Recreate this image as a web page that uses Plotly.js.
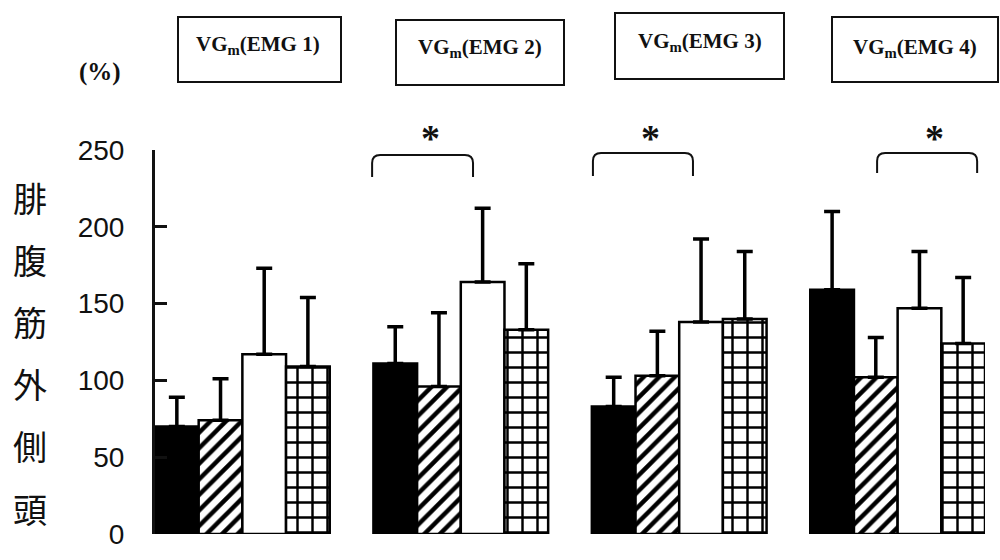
<!DOCTYPE html>
<html>
<head>
<meta charset="utf-8">
<script src="https://cdn.plot.ly/plotly-3.0.1.min.js"></script>
<style>html,body{margin:0;padding:0;background:#fff;}#chart{width:1000px;height:560px;}</style>
</head>
<body>
<div id="chart"></div>
<script>
// ---- data ----
const groups = [0, 1, 2, 3];
const panelLabels = ['VG<sub>m</sub>(EMG 1)', 'VG<sub>m</sub>(EMG 2)', 'VG<sub>m</sub>(EMG 3)', 'VG<sub>m</sub>(EMG 4)'];
const blackMean   = [70, 111, 83, 159];
const blackSD     = [19, 24, 19, 51];
const hatchMean   = [74, 96, 103, 102];
const hatchSD     = [27, 48, 29, 26];
const whiteMean   = [117, 164, 138, 147];
const whiteSD     = [56, 48, 54, 37];
const gridMean    = [109, 133, 140, 124];
const gridSD      = [45, 43, 44, 43];
const yTickVals   = [0, 50, 100, 150, 200, 250];
const yTitleChars = ['腓', '腹', '筋', '外', '側', '頭'];
// significance brackets: [x0, x1, yTop, yEnd] in data units
const brackets = [[0.594, 1.056, 246.7, 232.4], [1.605, 2.063, 248, 233], [2.906, 3.364, 248, 235]];

// ---- layout geometry (pixels) ----
const W = 1000, H = 560, L = 155, R = 15, T = 150, B = 26;
const pw = W - L - R, ph = H - T - B;
const px2paperX = p => (p - L) / pw;
const py2paperY = p => (H - B - p) / ph;

const zeros = groups.map(() => 0);
const errStyle = (arr) => ({type: 'data', symmetric: false, array: arr, arrayminus: zeros,
  color: '#000', thickness: 3.5, width: 8});
const outline = {color: '#000', width: 2.5};

const traces = [
  {type: 'bar', x: groups, y: blackMean, error_y: errStyle(blackSD),
   marker: {color: '#000', line: outline}},
  {type: 'bar', x: groups, y: hatchMean, error_y: errStyle(hatchSD),
   marker: {color: '#fff', line: outline,
     pattern: {shape: '/', fgcolor: '#000', bgcolor: '#fff', size: 11, solidity: 0.4, fillmode: 'replace'}}},
  {type: 'bar', x: groups, y: whiteMean, error_y: errStyle(whiteSD),
   marker: {color: '#fff', line: outline}},
  {type: 'bar', x: groups, y: gridMean, error_y: errStyle(gridSD),
   marker: {color: '#fff', line: outline,
     pattern: {shape: '+', fgcolor: '#000', bgcolor: '#fff', size: 15, solidity: 0.3, fillmode: 'replace'}}}
];

const shapes = [];
const annotations = [];

// panel boxes (pixel rects) and labels
const boxes = [[178, 17, 341, 82], [396, 20, 564, 85], [615, 13, 784, 79], [832, 17, 998, 82]];
const labelPos = [[258, 45], [480, 48], [700, 42], [915, 48]];
boxes.forEach((b, i) => {
  shapes.push({type: 'rect', xref: 'paper', yref: 'paper',
    x0: px2paperX(b[0]), x1: px2paperX(b[2]), y0: py2paperY(b[3]), y1: py2paperY(b[1]),
    line: {color: '#111', width: 2}, fillcolor: 'rgba(0,0,0,0)'});
  annotations.push({xref: 'paper', yref: 'paper', x: px2paperX(labelPos[i][0]), y: py2paperY(labelPos[i][1]),
    xanchor: 'center', yanchor: 'middle', showarrow: false, text: '<b>' + panelLabels[i] + '</b>',
    font: {family: 'Liberation Serif, serif', size: 21, color: '#111'}});
});

// brackets with asterisks
const rx = 0.037, ry = 5.2;
brackets.forEach(b => {
  const [x0, x1, yt, ye] = b;
  shapes.push({type: 'path', xref: 'x', yref: 'y',
    path: `M${x0},${ye} L${x0},${yt - ry} Q${x0},${yt} ${x0 + rx},${yt} L${x1 - rx},${yt} Q${x1},${yt} ${x1},${yt - ry} L${x1},${ye}`,
    line: {color: '#111', width: 2}});
  annotations.push({xref: 'x', yref: 'paper', x: (x0 + x1) / 2 + 0.035, y: py2paperY(138),
    xanchor: 'center', yanchor: 'middle', showarrow: false, text: '<b>*</b>',
    font: {family: 'Liberation Serif, serif', size: 38, color: '#111'}});
});

// (%) label
annotations.push({xref: 'paper', yref: 'paper', x: px2paperX(100), y: py2paperY(72),
  xanchor: 'center', yanchor: 'middle', showarrow: false, text: '<b>(%)</b>',
  font: {family: 'Liberation Serif, serif', size: 25, color: '#111'}});

// vertical y title, one character per line
yTitleChars.forEach((c, i) => {
  annotations.push({xref: 'paper', yref: 'paper', x: px2paperX(30), y: py2paperY(197 + i * 62.2),
    xanchor: 'center', yanchor: 'middle', showarrow: false, text: c,
    font: {family: 'Noto Sans CJK JP, sans-serif', size: 34, color: '#111'}});
});

const layout = {
  width: W, height: H,
  margin: {l: L, r: R, t: T, b: B, pad: 0},
  paper_bgcolor: '#fff', plot_bgcolor: '#fff',
  barmode: 'group', bargap: 0.2, bargroupgap: 0,
  showlegend: false,
  xaxis: {type: 'linear', range: [-0.4, 3.4], showgrid: false, zeroline: false,
    showline: false, showticklabels: false, ticks: '', fixedrange: true},
  yaxis: {range: [0, 250], tickvals: yTickVals, ticktext: yTickVals.map(String),
    showgrid: false, zeroline: false, showline: true, linecolor: '#111', linewidth: 3,
    ticks: 'inside', ticklen: 12, tickwidth: 3, tickcolor: '#111', ticklabelstandoff: 22,
    tickfont: {family: 'Liberation Sans, Arial, sans-serif', size: 28, color: '#111'}},
  shapes: shapes,
  annotations: annotations
};

Plotly.newPlot('chart', traces, layout, {displayModeBar: false, staticPlot: true});
</script>
</body>
</html>
